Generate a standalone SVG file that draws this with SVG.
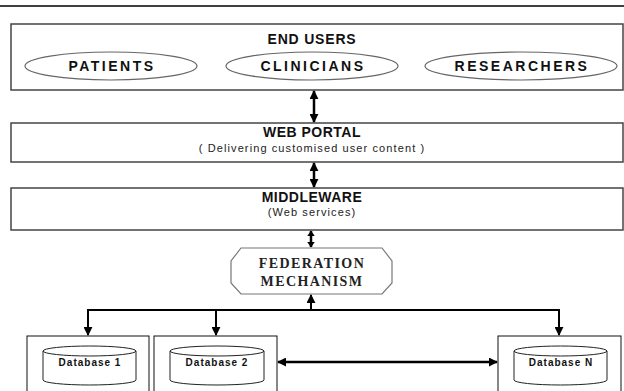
<svg xmlns="http://www.w3.org/2000/svg" width="624" height="391" viewBox="0 0 624 391">
<style>
.box{fill:#fff;stroke:#444;stroke-width:1.5}
.oval{fill:#fff;stroke:#666;stroke-width:1.2}
.oct{fill:#fff;stroke:#777;stroke-width:1.2}
.db{fill:#fff;stroke:#111;stroke-width:1}
.cyl{fill:#fff;stroke:#222;stroke-width:1}
.h{font-family:"Liberation Sans",Arial,sans-serif;font-weight:bold;font-size:14px;fill:#111;text-anchor:middle}
.lbl{font-family:"Liberation Sans",Arial,sans-serif;font-weight:bold;font-size:14px;fill:#111;text-anchor:middle;letter-spacing:2.5px}
.sub{font-family:"Liberation Sans",Arial,sans-serif;font-size:11px;fill:#222;text-anchor:middle;letter-spacing:1.1px}
.fed{font-family:"Liberation Serif","Times New Roman",serif;font-weight:bold;font-size:14px;fill:#222;text-anchor:middle;letter-spacing:1.4px}
.dbt{font-family:"Liberation Sans",Arial,sans-serif;font-weight:bold;font-size:10px;fill:#111;text-anchor:middle;letter-spacing:1px}
.conn{fill:none;stroke:#000;stroke-width:2.5}
.line{fill:none;stroke:#000;stroke-width:2}
</style>
<defs>
<marker id="ah" viewBox="0 0 10 10" refX="9" refY="5" markerWidth="9" markerHeight="9" markerUnits="userSpaceOnUse" orient="auto-start-reverse">
<path d="M0,0 L10,5 L0,10 z" fill="#000"/>
</marker>
<marker id="ahs" viewBox="0 0 10 10" refX="9" refY="5" markerWidth="6" markerHeight="8" markerUnits="userSpaceOnUse" orient="auto-start-reverse" preserveAspectRatio="none">
<path d="M0,0 L10,5 L0,10 z" fill="#000"/>
</marker>
</defs>
<line x1="0" y1="6" x2="624" y2="6" stroke="#000" stroke-width="1.5"/>
<g id="end-users">
<rect class="box" x="11" y="24" width="612" height="66"/>
<text class="h" x="312" y="44" style="letter-spacing:0.8px">END USERS</text>
</g>
<g id="patients">
<ellipse class="oval" cx="111" cy="66" rx="86" ry="14"/>
<text class="lbl" x="112" y="71">PATIENTS</text>
</g>
<g id="clinicians">
<ellipse class="oval" cx="312" cy="66" rx="86" ry="14"/>
<text class="lbl" x="313" y="71">CLINICIANS</text>
</g>
<g id="researchers">
<ellipse class="oval" cx="521" cy="66" rx="96" ry="14"/>
<text class="lbl" x="522" y="71">RESEARCHERS</text>
</g>
<g id="web-portal">
<rect class="box" x="11" y="123" width="612" height="39"/>
<text class="h" x="312" y="137" style="letter-spacing:0.5px">WEB PORTAL</text>
<text class="sub" x="312" y="152">( Delivering customised user content )</text>
</g>
<g id="middleware">
<rect class="box" x="11" y="188" width="612" height="42"/>
<text class="h" x="312" y="202" style="letter-spacing:0.5px">MIDDLEWARE</text>
<text class="sub" x="312" y="216">(Web services)</text>
</g>
<g id="federation">
<polygon class="oct" points="241,248 382,248 392,261 392,283 382,294 241,294 231,283 231,261"/>
<text class="fed" x="312" y="268">FEDERATION</text>
<text class="fed" x="312" y="286">MECHANISM</text>
</g>
<g id="database-1">
<rect class="db" x="27" y="336" width="122" height="60"/>
<path class="cyl" d="M43,351 L43,380 A46.5,5 0 0 0 136,380 L136,351"/>
<ellipse class="cyl" cx="89.5" cy="351" rx="46.5" ry="5"/>
<text class="dbt" x="90" y="366">Database 1</text>
</g>
<g id="database-2">
<rect class="db" x="154" y="336" width="123" height="60"/>
<path class="cyl" d="M170,351 L170,380 A47,5 0 0 0 264,380 L264,351"/>
<ellipse class="cyl" cx="217" cy="351" rx="47" ry="5"/>
<text class="dbt" x="217" y="366">Database 2</text>
</g>
<g id="database-n">
<rect class="db" x="498" y="336" width="123" height="60"/>
<path class="cyl" d="M514,351 L514,380 A46.5,5 0 0 0 607,380 L607,351"/>
<ellipse class="cyl" cx="560.5" cy="351" rx="46.5" ry="5"/>
<text class="dbt" x="561" y="366">Database N</text>
</g>
<g id="connectors">
<line class="conn" x1="314" y1="91" x2="314" y2="122" marker-start="url(#ah)" marker-end="url(#ah)"/>
<line class="conn" x1="314" y1="163" x2="314" y2="187" marker-start="url(#ah)" marker-end="url(#ah)"/>
<line class="conn" x1="311" y1="231" x2="311" y2="247" marker-start="url(#ahs)" marker-end="url(#ahs)"/>
<line class="line" x1="311" y1="310" x2="311" y2="295" marker-end="url(#ah)"/>
<polyline class="line" points="88,335 88,310 559,310 559,335"/>
<line class="line" x1="88" y1="320" x2="88" y2="335" marker-end="url(#ah)"/>
<line class="line" x1="216" y1="310" x2="216" y2="335" marker-end="url(#ah)"/>
<line class="line" x1="559" y1="320" x2="559" y2="335" marker-end="url(#ah)"/>
<line class="conn" x1="278" y1="362" x2="497" y2="362" marker-start="url(#ah)" marker-end="url(#ah)"/>
</g>
</svg>
